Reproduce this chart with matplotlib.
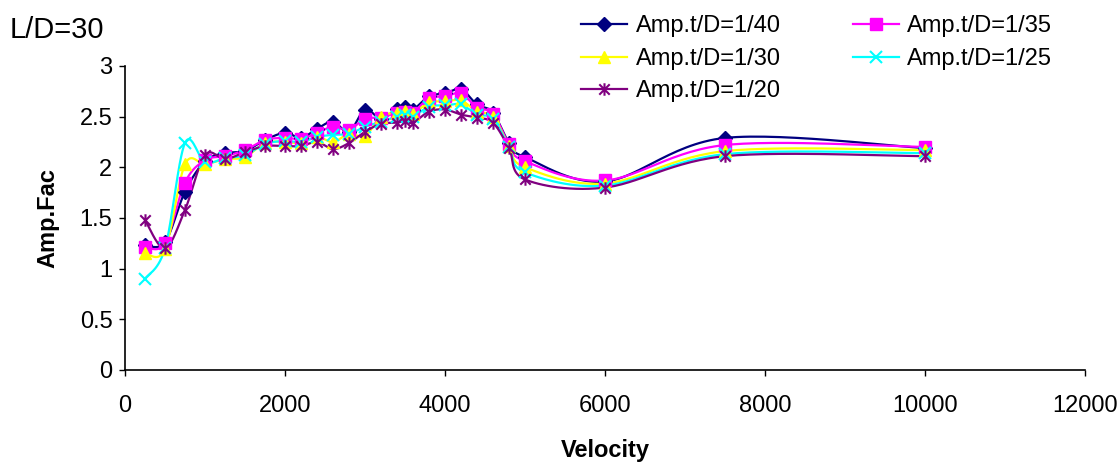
import numpy as np
import matplotlib
matplotlib.use("Agg")
import matplotlib.pyplot as plt
from matplotlib.path import Path
from matplotlib.lines import Line2D

plt.rcParams['font.family'] = ['Liberation Sans', 'DejaVu Sans']

velocity = [250, 500, 750, 1000, 1250, 1500, 1750, 2000, 2200, 2400, 2600, 2800,
            3000, 3200, 3400, 3500, 3600, 3800, 4000, 4200, 4400, 4600, 4800,
            5000, 6000, 7500, 10000]

amp_40 = [1.23, 1.26, 1.76, 2.06, 2.14, 2.16, 2.27, 2.34, 2.29, 2.38, 2.45, 2.35,
          2.57, 2.48, 2.58, 2.60, 2.57, 2.70, 2.73, 2.77, 2.62, 2.54, 2.24,
          2.10, 1.86, 2.29, 2.19]
amp_35 = [1.21, 1.25, 1.85, 2.07, 2.11, 2.17, 2.27, 2.29, 2.28, 2.34, 2.40, 2.37,
          2.48, 2.49, 2.54, 2.55, 2.54, 2.68, 2.70, 2.73, 2.59, 2.53, 2.23,
          2.06, 1.87, 2.22, 2.20]
amp_30 = [1.15, 1.19, 2.03, 2.03, 2.08, 2.10, 2.24, 2.25, 2.24, 2.30, 2.25, 2.33,
          2.31, 2.50, 2.54, 2.56, 2.53, 2.64, 2.65, 2.66, 2.55, 2.50, 2.21,
          2.00, 1.84, 2.16, 2.17]
amp_25 = [0.90, 1.20, 2.24, 2.05, 2.09, 2.12, 2.23, 2.26, 2.25, 2.30, 2.32, 2.33,
          2.40, 2.45, 2.50, 2.52, 2.50, 2.60, 2.61, 2.62, 2.52, 2.48, 2.20,
          1.95, 1.82, 2.13, 2.14]
amp_20 = [1.48, 1.20, 1.58, 2.12, 2.08, 2.15, 2.21, 2.21, 2.21, 2.25, 2.18, 2.24,
          2.35, 2.43, 2.44, 2.46, 2.44, 2.55, 2.57, 2.52, 2.49, 2.44, 2.19,
          1.88, 1.80, 2.11, 2.11]

labels = ["Amp.t/D=1/40", "Amp.t/D=1/35", "Amp.t/D=1/30", "Amp.t/D=1/25", "Amp.t/D=1/20"]
series = [amp_40, amp_35, amp_30, amp_25, amp_20]
colors = ["#000080", "#FF00FF", "#FFFF00", "#00FFFF", "#800080"]

# asterisk marker: an 'x' with a vertical bar through it
star_path = Path(
    [(-1, -1), (1, 1), (-1, 1), (1, -1), (0, -1.2), (0, 1.2)],
    [Path.MOVETO, Path.LINETO, Path.MOVETO, Path.LINETO, Path.MOVETO, Path.LINETO])

markers = [dict(marker="D", ms=7, mfc=colors[0], mec=colors[0]),
           dict(marker="s", ms=8, mfc=colors[1], mec=colors[1]),
           dict(marker="^", ms=9, mfc=colors[2], mec=colors[2]),
           dict(marker="x", ms=8, mfc="none", mec=colors[3], mew=1.5),
           dict(marker=star_path, ms=9, mfc="none", mec=colors[4], mew=1.5)]


def smooth(x, y, n=30):
    """Cubic Bezier smoothing through every point (Catmull-Rom style)."""
    x = np.asarray(x, float)
    y = np.asarray(y, float)
    pts = np.column_stack([x, y])
    out = []
    m = len(pts)
    for i in range(m - 1):
        p0 = pts[i - 1] if i > 0 else pts[i]
        p1 = pts[i]
        p2 = pts[i + 1]
        p3 = pts[i + 2] if i + 2 < m else pts[i + 1]
        c1 = p1 + (p2 - p0) / 6.0
        c2 = p2 - (p3 - p1) / 6.0
        t = np.linspace(0, 1, n, endpoint=(i == m - 2))[:, None]
        seg = ((1 - t) ** 3) * p1 + 3 * ((1 - t) ** 2) * t * c1 \
            + 3 * (1 - t) * t ** 2 * c2 + t ** 3 * p2
        out.append(seg)
    out = np.vstack(out)
    return out[:, 0], out[:, 1]


fig = plt.figure(figsize=(11.2, 4.63), dpi=100)
ax = fig.add_axes([0.1116, 0.2009, 0.8572, 0.6566])

handles = []
for vals, col, mk, lab in zip(series, colors, markers, labels):
    sx, sy = smooth(velocity, vals)
    ax.plot(sx, sy, color=col, lw=1.6, zorder=2)
    ax.plot(velocity, vals, linestyle="none", zorder=3, **mk)
    handles.append(Line2D([], [], color=col, lw=1.6, label=lab, **mk))

ax.set_xlim(0, 12000)
ax.set_ylim(0, 3)
ax.set_xticks(np.arange(0, 12001, 2000))
ax.set_yticks(np.arange(0, 3.01, 0.5))
ax.set_yticklabels(["0", "0.5", "1", "1.5", "2", "2.5", "3"])
ax.tick_params(direction="out", length=4, width=1, labelsize=17)
ax.tick_params(axis="x", pad=14)
ax.tick_params(axis="y", pad=5)
for s in ["top", "right"]:
    ax.spines[s].set_visible(False)
for s in ["left", "bottom"]:
    ax.spines[s].set_linewidth(1.2)

ax.set_xlabel("Velocity", fontsize=17, fontweight="bold", labelpad=16)
ax.set_ylabel("Amp.Fac", fontsize=17, fontweight="bold", labelpad=15)

fig.text(0.009, 0.935, "L/D=30", fontsize=21, ha="left", va="center")

order = [0, 2, 4, 1, 3]
fig.legend([handles[i] for i in order], [labels[i] for i in order],
           loc="upper left", bbox_to_anchor=(0.500, 1.013), ncol=2, frameon=False,
           fontsize=17, handlelength=1.95, handletextpad=0.35, columnspacing=3.05,
           labelspacing=0.45)

fig.savefig("out.png", dpi=100)
